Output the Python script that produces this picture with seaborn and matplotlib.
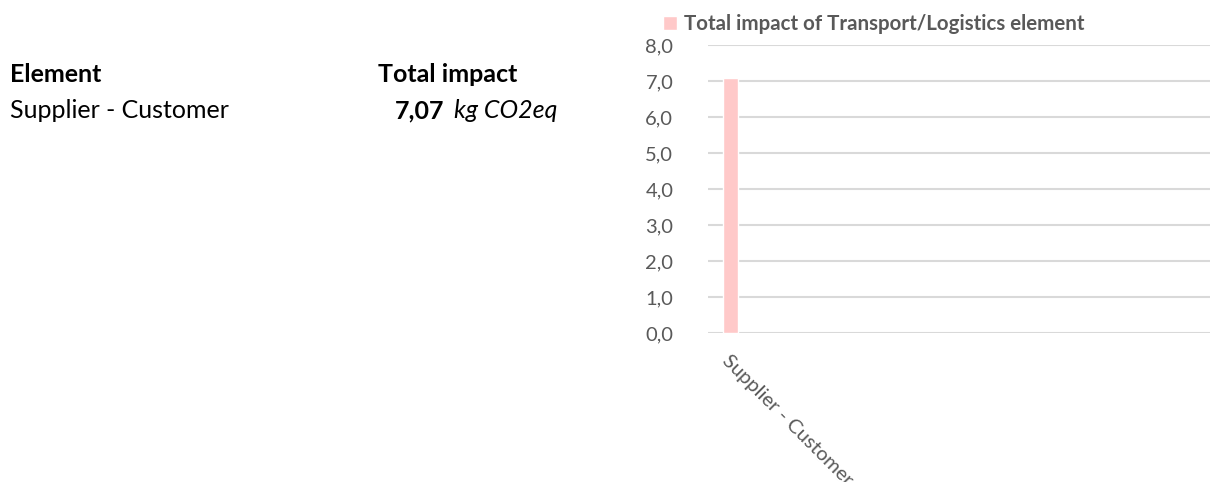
import matplotlib
matplotlib.use("Agg")
import matplotlib.pyplot as plt
import seaborn as sns

# data
elements = ["Supplier - Customer"]
impacts = [7.07]
unit = "kg CO2eq"
y_ticks = [0, 1, 2, 3, 4, 5, 6, 7, 8]
legend_label = "Total impact of Transport/Logistics element"

W, H = 1220, 482
pink = "#FFC9C9"
gray = "#595959"

sns.set_theme(style="white")
plt.rcParams['font.family'] = ['Lato', 'DejaVu Sans']

fig = plt.figure(figsize=(W / 100, H / 100), dpi=100)
ax = fig.add_axes([708 / W, 1 - 333 / H, (1210 - 708) / W, (333 - 45) / H])

sns.barplot(x=elements, y=impacts, color=pink, width=0.33, label=legend_label,
            ax=ax, zorder=3, saturation=1)

ax.set_xlim(-0.5, 10.5)
ax.set_ylim(0, 8)
ax.set_yticks(y_ticks)
ax.set_yticklabels([f"{v:.1f}".replace(".", ",") for v in y_ticks],
                   color=gray, fontsize=14.5)
ax.tick_params(axis="y", length=0, pad=25)
ax.tick_params(axis="x", length=0, pad=14)
ax.set_xticks(range(len(elements)))
ax.set_xticklabels(elements, rotation=-45, ha="left", rotation_mode="anchor",
                   color=gray, fontsize=14.5)
ax.yaxis.grid(True, color="#D9D9D9", linewidth=1.5, zorder=0)
ax.set_axisbelow(True)
for s in ax.spines.values():
    s.set_visible(False)
ax.set_xlabel("")
ax.set_ylabel("")

ax.legend(loc="center left", bbox_to_anchor=(663 / W, 1 - 24 / H),
          bbox_transform=fig.transFigure, frameon=False,
          handlelength=0.7, handleheight=0.7, handletextpad=0.3,
          borderpad=0, borderaxespad=0, labelcolor=gray,
          prop={"weight": "bold", "size": 14.8})

# left-hand table
fs = 18
fig.text(10 / W, 1 - 82 / H, "Element", fontsize=fs, fontweight="bold",
         color="black", va="baseline")
fig.text(378 / W, 1 - 82 / H, "Total impact", fontsize=fs, fontweight="bold",
         color="black", va="baseline")
fig.text(10 / W, 1 - 118 / H, elements[0], fontsize=fs, color="black",
         va="baseline")
fig.text(395 / W, 1 - 118 / H, f"{impacts[0]:.2f}".replace(".", ","),
         fontsize=fs, fontweight="bold", color="black", va="baseline")
fig.text(454 / W, 1 - 118 / H, unit, fontsize=fs, fontstyle="italic",
         color="black", va="baseline")

fig.savefig("out.png", dpi=100)
